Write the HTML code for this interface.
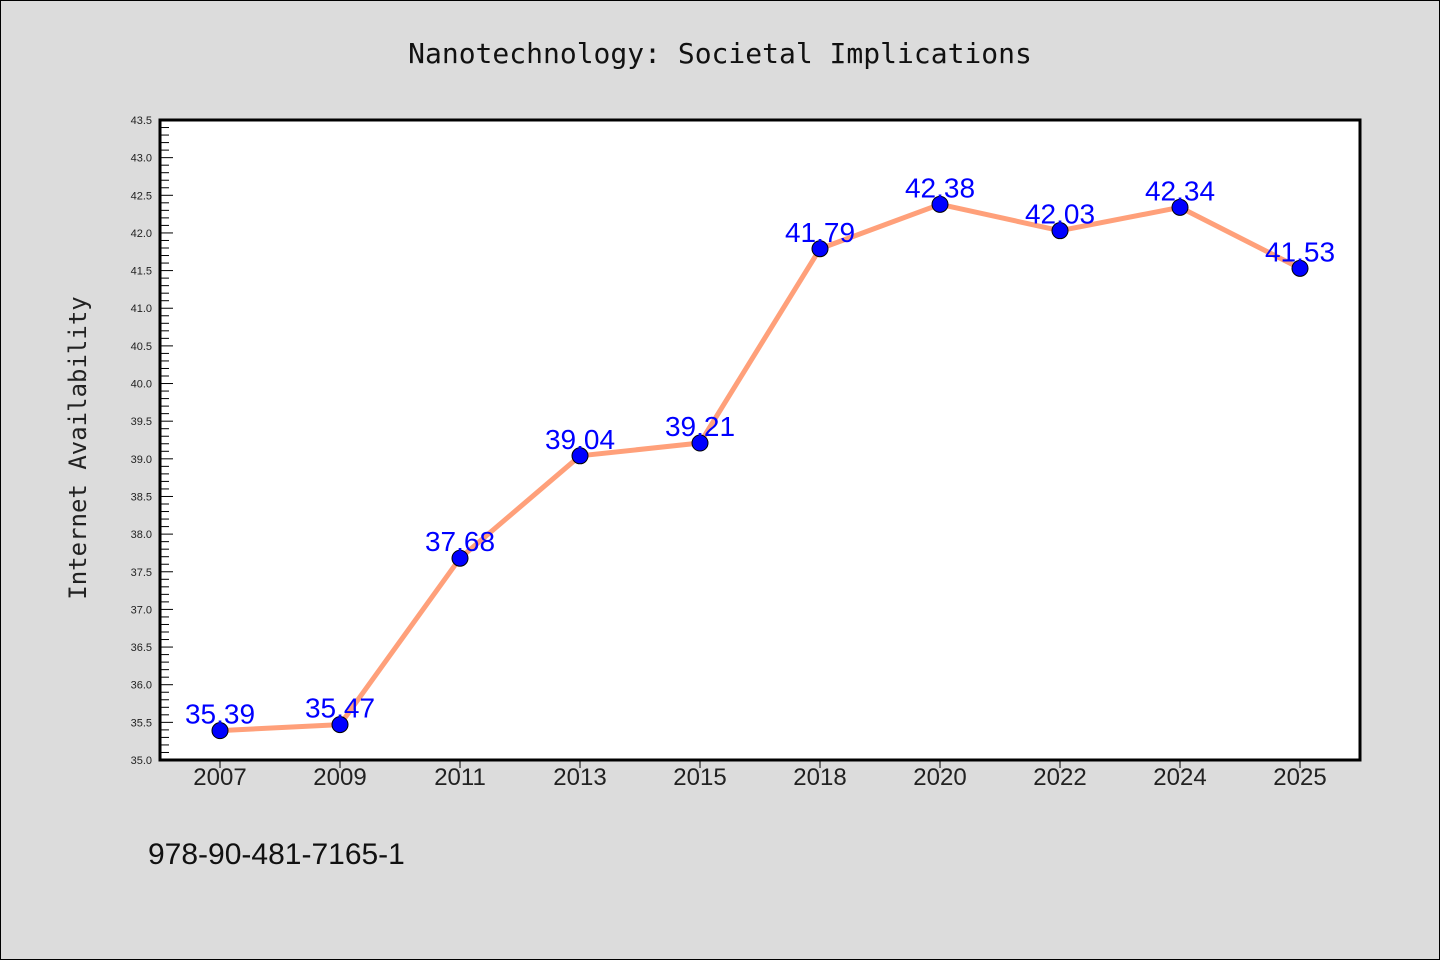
<!DOCTYPE html>
<html><head><meta charset="utf-8"><style>
body{margin:0;background:#dcdcdc;}
svg{display:block;font-family:"Liberation Sans","DejaVu Sans",sans-serif;}
</style></head><body>
<svg id="c" width="1440" height="960">
<rect x="0.5" y="0.5" width="1439" height="959" fill="#dcdcdc" stroke="#000"/>
<text x="720" y="63" text-anchor="middle" font-size="28" font-family="DejaVu Sans Mono, monospace" fill="#111">Nanotechnology: Societal Implications</text>
<text transform="translate(86,448) rotate(-90)" text-anchor="middle" font-size="24" font-family="DejaVu Sans Mono, monospace" fill="#222">Internet Availability</text>
<text x="148" y="864" font-size="30" fill="#111">978-90-481-7165-1</text>
<rect x="160" y="120" width="1200" height="640" fill="#fff"/>
<g id="ax"></g>
<g id="marks"></g>
<rect x="160" y="120" width="1200" height="640" fill="none" stroke="#000" stroke-width="3"/>
</svg>
<script>
const categories=["2007","2009","2011","2013","2015","2018","2020","2022","2024","2025"];
const values=[35.39,35.47,37.68,39.04,39.21,41.79,42.38,42.03,42.34,41.53];
const yTicks=[35.0,35.5,36.0,36.5,37.0,37.5,38.0,38.5,39.0,39.5,40.0,40.5,41.0,41.5,42.0,42.5,43.0,43.5];
const L=160,R=1360,T=120,B=760,Y0=35,Y1=43.5;
const NS="http://www.w3.org/2000/svg";
function xs(i){return L+(R-L)/categories.length*(i+0.5);}
function ys(v){return B-(v-Y0)/(Y1-Y0)*(B-T);}
function mk(t,a,p){const e=document.createElementNS(NS,t);for(const k in a)e.setAttribute(k,a[k]);p.appendChild(e);return e;}
const ax=document.getElementById('ax'),m=document.getElementById('marks');
for(let v=Y0;v<=Y1+1e-9;v+=0.1){
 const y=ys(v);const major=Math.abs(v*2-Math.round(v*2))<1e-6;
 const l=mk('line',{x1:L,x2:L+(major?13:9),y1:y,y2:y,stroke:'#000','stroke-width':1},ax);
 
 
}
yTicks.forEach(v=>{
 const t=mk('text',{x:152,y:ys(v)+4,'text-anchor':'end','font-size':11,fill:'#222'},ax);
 t.textContent=v.toFixed(1);
 
 
});
categories.forEach((c,i)=>{
 const x=xs(i);
 const l=mk('line',{x1:x,x2:x,y1:B,y2:B+8,stroke:'#000','stroke-width':1},ax);
 
 
 const t=mk('text',{x:x,y:785,'text-anchor':'middle','font-size':24,fill:'#222'},ax);
 t.textContent=c;
 
 
});
const pl=mk('polyline',{points:values.map((v,i)=>xs(i)+','+ys(v)).join(' '),fill:'none',stroke:'#ffa07a','stroke-width':5,'stroke-linejoin':'round'},m);


values.forEach((v,i)=>{
 const c=mk('circle',{cx:xs(i),cy:ys(v),r:8,fill:'#0000ff',stroke:'#000','stroke-width':1},m);
 
 
});
values.forEach((v,i)=>{
 const t=mk('text',{x:xs(i),y:ys(v)-7,'text-anchor':'middle','font-size':28,fill:'#0000ff'},m);
 t.textContent=v.toFixed(2);
 
 
});
</script>
</body></html>
